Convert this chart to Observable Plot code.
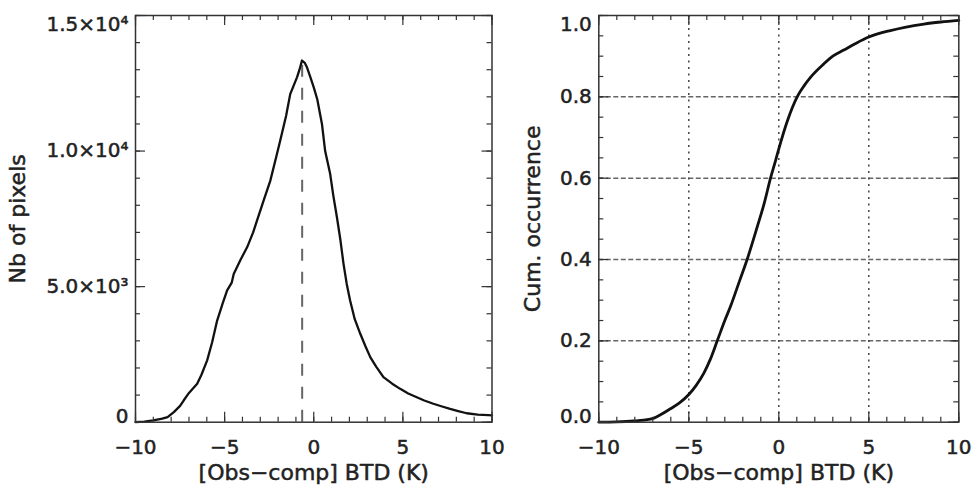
<!DOCTYPE html>
<html>
<head>
<meta charset="utf-8">
<script src="https://cdn.jsdelivr.net/npm/d3@7"></script>
<script src="https://cdn.jsdelivr.net/npm/@observablehq/plot@0.6"></script>
<style>
  html, body { margin: 0; padding: 0; background: #fff; }
  #wrap { display: flex; width: 971px; height: 486px; }
  svg { font-family: "DejaVu Sans", sans-serif; overflow: visible; }
</style>
</head>
<body>
<div id="wrap"></div>
<script>
// ---- Data ----
const histX = [-10, -9.5, -9.0, -8.5, -8.2, -7.85, -7.5, -7.3, -7.0, -6.54, -6.3, -5.98, -5.7, -5.42, -5.1, -4.86, -4.6, -4.49, -4.1, -3.74, -3.4, -3.18, -2.8, -2.44, -2.1, -1.88, -1.55, -1.32, -0.94, -0.8, -0.66, -0.5, -0.38, -0.2, 0.0, 0.2, 0.46, 0.64, 0.92, 1.1, 1.3, 1.5, 1.67, 1.85, 2.04, 2.3, 2.61, 2.9, 3.17, 3.5, 3.91, 4.4, 4.85, 5.3, 5.78, 6.2, 6.71, 7.2, 7.65, 8.1, 8.58, 9.2, 9.79, 10];
const histY = [0, 20, 70, 130, 190, 370, 600, 800, 1080, 1420, 1750, 2280, 2950, 3750, 4400, 4860, 5150, 5470, 6000, 6450, 7000, 7440, 8200, 8900, 9800, 10390, 11300, 12100, 12720, 13000, 13340, 13250, 13090, 12750, 12350, 11900, 11000, 10000, 9160, 8350, 7560, 6700, 5840, 5100, 4490, 3800, 3260, 2800, 2400, 2050, 1660, 1420, 1230, 1060, 920, 800, 680, 580, 490, 410, 330, 280, 260, 250];
const modeX = [-0.65];
const modeY = [13300];

const cdfX = [-10, -9, -8.06, -7.5, -6.94, -6.5, -6.02, -5.5, -5.0, -4.6, -4.17, -3.8, -3.42, -3.0, -2.68, -2.2, -1.76, -1.2, -0.8, -0.46, -0.2, 0, 0.47, 1.02, 1.4, 1.76, 2.5, 3.0, 3.61, 4.3, 5.0, 6.2, 7.0, 8.06, 9.0, 10];
const cdfY = [0, 0.001, 0.003, 0.005, 0.01, 0.02, 0.033, 0.048, 0.068, 0.09, 0.12, 0.155, 0.2, 0.25, 0.285, 0.345, 0.4, 0.48, 0.54, 0.6, 0.64, 0.672, 0.74, 0.8, 0.827, 0.848, 0.881, 0.9, 0.915, 0.932, 0.947, 0.963, 0.971, 0.979, 0.984, 0.988];

const xMajor = [-10, -5, 0, 5, 10];
const xMinor = d3.range(-10, 11, 1);
const xTickLabels = ["−10", "−5", "0", "5", "10"];
const leftYMajor = [0, 5000, 10000, 15000];
const leftYMinor = d3.range(0, 15001, 1000);
const leftYLabels = ["0", "5.0×10³", "1.0×10⁴", "1.5×10⁴"];
const rightYMajor = [0, 0.2, 0.4, 0.6, 0.8, 1.0];
const rightYMinor = d3.range(0, 21, 1).map(i => i * 0.05);
const rightYLabels = ["0.0", "0.2", "0.4", "0.6", "0.8", "1.0"];
const gridY = [0.2, 0.4, 0.6, 0.8];
const gridX = [-5, 0, 5];

const xTitle = "[Obs−comp] BTD (K)";
const leftYTitle = "Nb of pixels";
const rightYTitle = "Cum. occurrence";

// ---- Layout ----
const H = 486, MT = 15, MB = 64.3;
const FH = H - MT - MB;
const TXT = "#222", FRAME = "#333";
const FS = 20, TFS = 22;
const textStyle = {fill: TXT, stroke: TXT, strokeWidth: 0.5};

function tickMarks(FW, yMajor, yMinor) {
  return [
    Plot.ruleX(xMinor, {x: d => d, insetTop: FH - 5, stroke: FRAME, strokeWidth: 1.2}),
    Plot.ruleX(xMajor, {x: d => d, insetTop: FH - 10, stroke: FRAME, strokeWidth: 1.2}),
    Plot.ruleX(xMinor, {x: d => d, insetBottom: FH - 5, stroke: FRAME, strokeWidth: 1.2}),
    Plot.ruleX(xMajor, {x: d => d, insetBottom: FH - 10, stroke: FRAME, strokeWidth: 1.2}),
    Plot.ruleY(yMinor, {y: d => d, insetRight: FW - 5, stroke: FRAME, strokeWidth: 1.2}),
    Plot.ruleY(yMajor, {y: d => d, insetRight: FW - 10, stroke: FRAME, strokeWidth: 1.2}),
    Plot.ruleY(yMinor, {y: d => d, insetLeft: FW - 5, stroke: FRAME, strokeWidth: 1.2}),
    Plot.ruleY(yMajor, {y: d => d, insetLeft: FW - 10, stroke: FRAME, strokeWidth: 1.2})
  ];
}

function textMarks(yMajor, yLabels, yTitle, titleDx) {
  const n = yMajor.length;
  const idx = d3.range(n);
  return [
    Plot.text(xMajor, {x: d => d, text: (d, i) => xTickLabels[i], frameAnchor: "bottom", dy: 31.5, lineAnchor: "bottom", fontSize: FS, ...textStyle}),
    Plot.text([xTitle], {text: d => d, frameAnchor: "bottom", dy: 57.3, lineAnchor: "bottom", fontSize: TFS, ...textStyle}),
    Plot.text(idx.filter(i => i > 0 && i < n - 1), {y: i => yMajor[i], text: i => yLabels[i], frameAnchor: "left", dx: -7, textAnchor: "end", lineAnchor: "middle", fontSize: FS, ...textStyle}),
    Plot.text([0], {y: i => yMajor[i], text: i => yLabels[i], frameAnchor: "left", dx: -7, dy: -6, textAnchor: "end", lineAnchor: "middle", fontSize: FS, ...textStyle}),
    Plot.text([n - 1], {y: i => yMajor[i], text: i => yLabels[i], frameAnchor: "left", dx: -7, dy: 9, textAnchor: "end", lineAnchor: "middle", fontSize: FS, ...textStyle}),
    Plot.text([yTitle], {text: d => d, frameAnchor: "left", dx: titleDx, rotate: -90, lineAnchor: "middle", textAnchor: "middle", fontSize: TFS, ...textStyle})
  ];
}

// Left panel
const LW = 500, LML = 135, LMR = 8.5;
const LFW = LW - LML - LMR;
const left = Plot.plot({
  width: LW, height: H,
  marginLeft: LML, marginRight: LMR, marginTop: MT, marginBottom: MB,
  x: {domain: [-10, 10], axis: null},
  y: {domain: [0, 15000], axis: null},
  marks: [
    Plot.ruleX(modeX, {x: d => d, y1: 0, y2: (d, i) => modeY[i], stroke: "#666", strokeWidth: 2, strokeDasharray: "12,11"}),
    Plot.line(histX, {x: d => d, y: (d, i) => histY[i], stroke: "#111", strokeWidth: 2.3}),
    ...tickMarks(LFW, leftYMajor, leftYMinor),
    Plot.frame({stroke: FRAME, strokeWidth: 1.5}),
    ...textMarks(leftYMajor, leftYLabels, leftYTitle, 17 - LML)
  ]
});

// Right panel
const RW = 471, RML = 98.3, RMR = 12.7;
const RFW = RW - RML - RMR;
const right = Plot.plot({
  width: RW, height: H,
  marginLeft: RML, marginRight: RMR, marginTop: MT, marginBottom: MB,
  x: {domain: [-10, 10], axis: null},
  y: {domain: [0, 1], axis: null},
  marks: [
    Plot.ruleY(gridY, {y: d => d, stroke: "#666", strokeWidth: 1.5, strokeDasharray: "5,2.5"}),
    Plot.ruleX(gridX, {x: d => d, stroke: "#444", strokeWidth: 1.5, strokeDasharray: "2,4.5"}),
    Plot.line(cdfX, {x: d => d, y: (d, i) => cdfY[i], stroke: "#111", strokeWidth: 2.8, curve: "monotone-x"}),
    ...tickMarks(RFW, rightYMajor, rightYMinor),
    Plot.frame({stroke: FRAME, strokeWidth: 1.5}),
    ...textMarks(rightYMajor, rightYLabels, rightYTitle, 532 - 500 - RML)
  ]
});

const wrap = document.getElementById("wrap");
wrap.appendChild(left);
wrap.appendChild(right);
</script>
</body>
</html>
